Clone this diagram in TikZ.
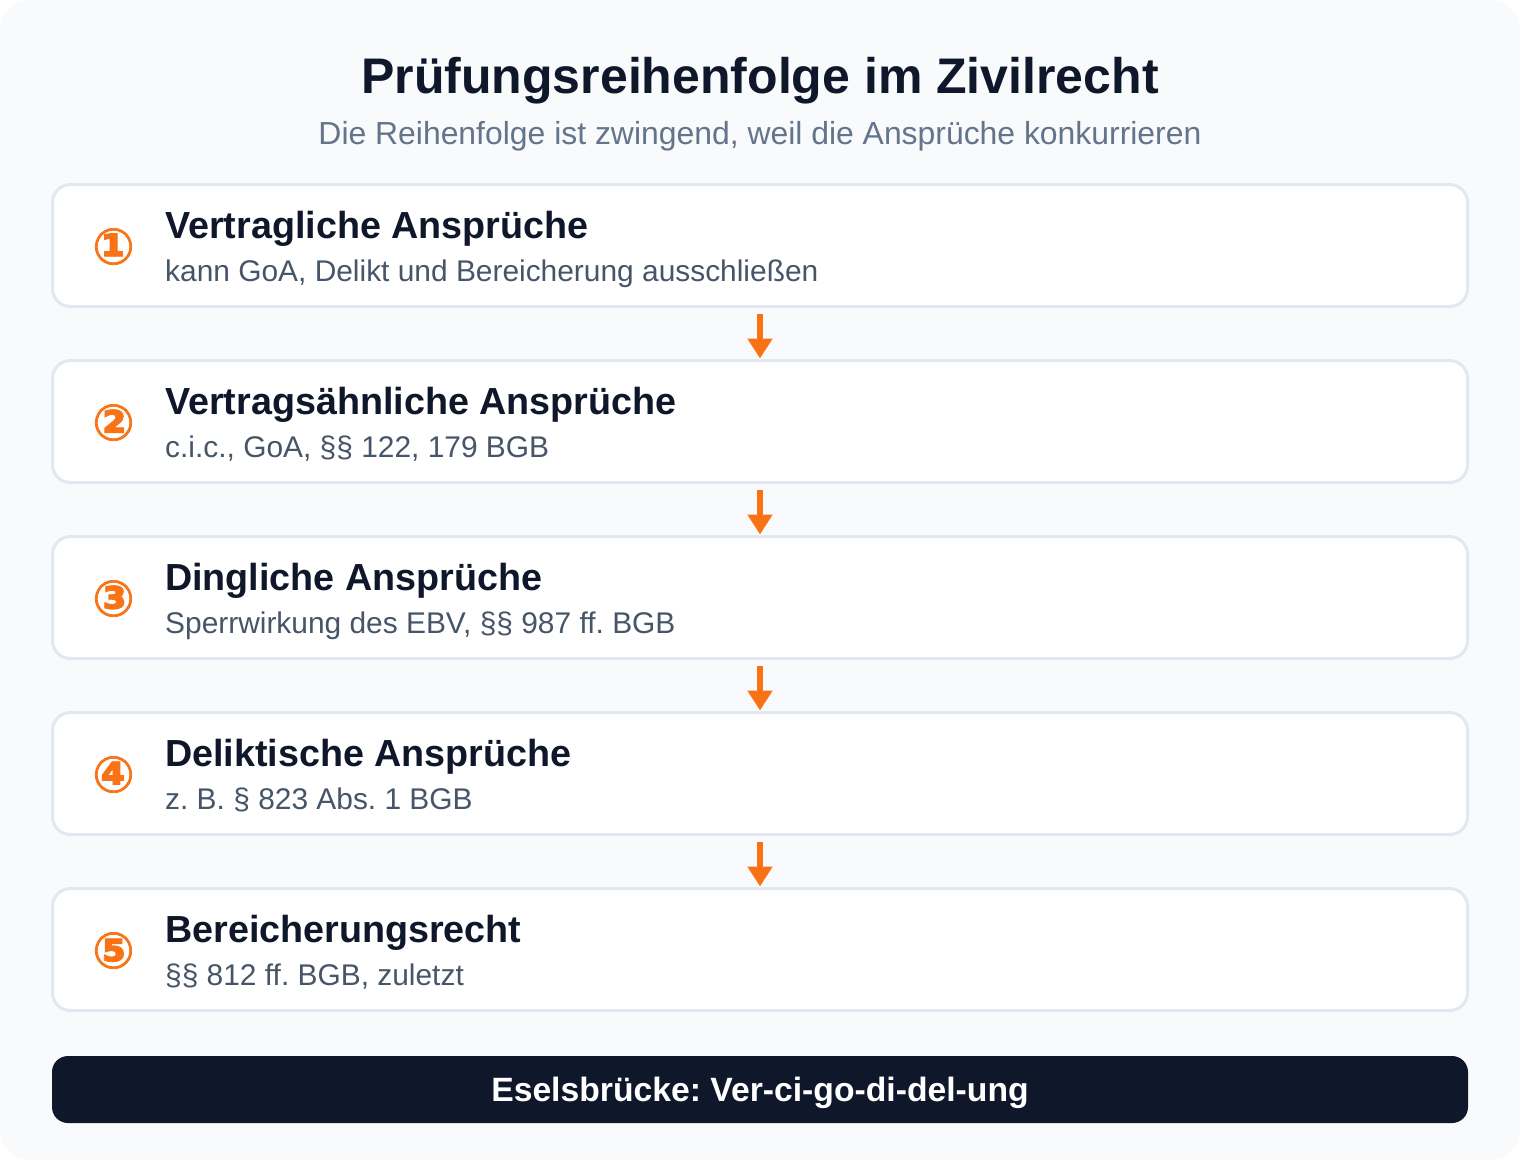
\documentclass[tikz,border=0pt]{standalone}
\usepackage{fontspec}
\setmainfont{Liberation Sans}
\newfontfamily\circfont[FakeBold=1.5]{DejaVu Sans Bold}
\usetikzlibrary{arrows.meta}
\definecolor{bgc}{HTML}{F8FAFC}
\definecolor{bordc}{HTML}{E2E8F0}
\definecolor{orng}{HTML}{F97316}
\definecolor{darkc}{HTML}{0F172A}
\definecolor{subc}{HTML}{64748B}
\definecolor{txtc}{HTML}{475569}
\frenchspacing
\tikzset{
  stepbox/.style={draw=bordc, line width=3pt, fill=white, rounded corners=18pt,
    minimum width=1415pt, minimum height=122pt, inner sep=0pt, outer sep=0pt, anchor=north west},
  numtxt/.style={text=orng, font=\circfont\fontsize{50}{50}\selectfont, anchor=center, inner sep=0pt},
  headtxt/.style={text=darkc, font=\bfseries\fontsize{37.7}{40}\selectfont, anchor=base west, inner sep=0pt},
  desctxt/.style={text=txtc, font=\fontsize{29.9}{32}\selectfont, anchor=base west, inner sep=0pt},
  flowarrow/.style={draw=orng, line width=6pt, -{Triangle[width=24pt,length=20pt]}},
}
\begin{document}
\begin{tikzpicture}[x=1pt,y=-1pt]
\useasboundingbox (0,0) rectangle (1520,1170);
\fill[white] (0,0) rectangle (1520,1170);
\fill[bgc, rounded corners=30pt] (0,0) rectangle (1520,1160);
\node[text=darkc, font=\bfseries\fontsize{50}{54}\selectfont, anchor=base, inner sep=0pt] (title) at (760,93) {Prüfungsreihenfolge im Zivilrecht};
\node[text=subc, font=\fontsize{31.9}{34}\selectfont, anchor=base, inner sep=0pt] (subtitle) at (760,144) {Die Reihenfolge ist zwingend, weil die Ansprüche konkurrieren};
% boxes
\foreach \i/\num/\head/\desc in {
  1/①/Vertragliche Ansprüche/{kann GoA, Delikt und Bereicherung ausschließen},
  2/②/Vertragsähnliche Ansprüche/{c.i.c., GoA, §§ 122, 179 BGB},
  3/③/Dingliche Ansprüche/{Sperrwirkung des EBV, §§ 987 ff. BGB},
  4/④/Deliktische Ansprüche/{z. B. § 823 Abs. 1 BGB},
  5/⑤/Bereicherungsrecht/{§§ 812 ff. BGB, zuletzt}} {
  \pgfmathsetmacro{\top}{184.5+176*(\i-1)}
  \node[stepbox] (b\i) at (52.5,\top) {};
  \node[numtxt] (n\i) at (113.5,\top+62) {\num};
  \node[headtxt] (h\i) at (165,\top+54) {\head};
  \node[desctxt] (d\i) at (165,\top+97) {\desc};
}
\foreach \i [evaluate=\i as \j using int(\i+1)] in {1,2,3,4} {
  \draw[flowarrow] ([yshift=-7pt]b\i.south) -- ([yshift=2pt]b\j.north);
}
\node[fill=darkc, rounded corners=16pt, minimum width=1416pt, minimum height=67pt, inner sep=0pt, outer sep=0pt] (bar) at (760,1089.5) {};
\node[text=white, font=\bfseries\fontsize{33.7}{36}\selectfont, anchor=base, inner sep=0pt] (bartxt) at (760,1101) {Eselsbrücke: Ver-ci-go-di-del-ung};
\end{tikzpicture}
\end{document}
